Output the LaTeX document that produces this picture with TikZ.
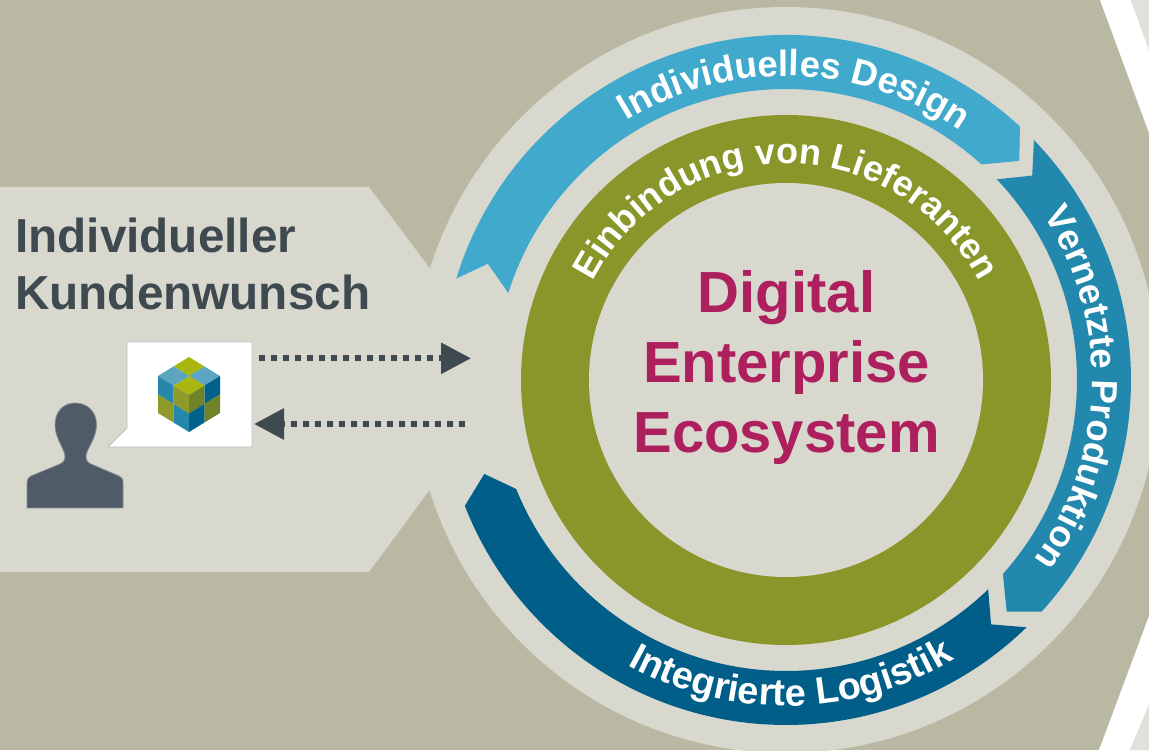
\documentclass[tikz,border=0pt]{standalone}
\usepackage{fontspec}
\setmainfont{Liberation Sans}
\usetikzlibrary{decorations.text,arrows.meta}
\definecolor{bgc}{HTML}{B9B8A3}
\definecolor{palec}{HTML}{D8D8CE}
\definecolor{palerc}{HTML}{E1E1D9}
\definecolor{blueA}{HTML}{41A9CB}
\definecolor{blueB}{HTML}{2388AD}
\definecolor{blueC}{HTML}{005E88}
\definecolor{greenc}{HTML}{88962A}
\definecolor{magc}{HTML}{AE1F5E}
\definecolor{inkc}{HTML}{3F4A50}
\definecolor{personc}{HTML}{4F5B66}
\definecolor{cyel}{HTML}{A9B60F}
\definecolor{clbl}{HTML}{5BA5C0}
\definecolor{cblu}{HTML}{2587AA}
\definecolor{coli}{HTML}{8F9A2A}
\definecolor{cdol}{HTML}{6E8426}
\definecolor{cdbl}{HTML}{00628C}
\newcommand{\ringfont}{\fontsize{36.5}{37}\selectfont\bfseries}
\newcommand{\lowfont}{\fontsize{38}{38}\selectfont\bfseries}
\newcommand{\innerfont}{\fontsize{36}{36}\selectfont\bfseries}
\tikzset{
  curvetext/.style={decorate,decoration={text along path,text align=center,text color=white,text={#1}}},
  flowline/.style={draw=inkc,line width=6pt,dash pattern=on 6pt off 6pt,
    -{Triangle[length=30pt,width=30pt,fill=inkc]}},
  kundentext/.style={text=inkc,font=\fontsize{47.7}{57}\selectfont\bfseries,align=left,inner sep=0pt},
  maintext/.style={text=magc,font=\fontsize{58}{70}\selectfont\bfseries,align=center,inner sep=0pt},
}
\begin{document}
\begin{tikzpicture}[x=1pt,y=1pt]
\useasboundingbox (0,0) rectangle (1149,750);
\clip (0,0) rectangle (1149,750);
\fill[bgc] (0,0) rectangle (1149,750);
% chevrons at the right edge
\fill[white] (1100,750) -- (1131,750) -- (1149,700) -- (1149,617) -- cycle;
\fill[palerc] (1131,750) -- (1149,750) -- (1149,700) -- cycle;
\fill[white] (1099,0) -- (1130,0) -- (1149,45) -- (1149,134) -- cycle;
\fill[palerc] (1130,0) -- (1149,0) -- (1149,45) -- cycle;
% customer panel
\fill[palec] (0,563) -- (369,563) -- (431,480) -- (431,262) -- (369,178) -- (0,178) -- cycle;
\begin{scope}[shift={(786,370)}]
\fill[palec] (0,0) circle[radius=373];
\fill[blueA] (162.9:345) arc[start angle=162.9,end angle=47.3,radius=345] -- (43.2:320) -- (47.8:291) arc[start angle=47.8,end angle=162.6,radius=291] -- (158.7:320) -- cycle;
\fill[blueB] (44.06:345) arc[start angle=44.06,end angle=-42.2,radius=345] -- (-46.4:320) -- (-41.8:291) arc[start angle=-41.8,end angle=43.6,radius=291] -- (39.7:320) -- cycle;
\fill[blueC] (-45.8:345) arc[start angle=-45.8,end angle=-158.6,radius=345] -- (-162.7:316) -- (-158:291) arc[start angle=-158,end angle=-46,radius=291] -- (-50:319) -- cycle;
\fill[greenc] (0,0) circle[radius=265];
\fill[palec] (0,0) circle[radius=197];
\path[curvetext={|\ringfont|Individuelles Design}] (133.3:304) arc[start angle=133.3,end angle=43.3,radius=304];
\path[curvetext={|\ringfont|Vernetzte Produktion}] (43.4:306) arc[start angle=43.4,end angle=-46.6,radius=306];
\path[curvetext={|\lowfont|Integrierte Logistik}] (-134:326) arc[start angle=-134,end angle=-44,radius=326];
\path[curvetext={|\innerfont|Einbindung von Lieferanten}] (170:216.5) arc[start angle=170,end angle=10,radius=216.5];
\end{scope}
\node[maintext] (main) at (786.5,382.7) {Digital\\Enterprise\\Ecosystem};
\node[kundentext,anchor=base west] (kunde) at (15,497) {Individueller};
\node[kundentext,anchor=base west] (wunsch) at (15,440) {Kundenwunsch};
% person
\fill[personc,draw=personc!70!white,line width=0.8pt] (27,242) -- (27,267) .. controls (27,271) and (29,273) .. (31,274) -- (60,286) .. controls (64,288) and (65,290) .. (65,294) .. controls (65,300) and (55,312) .. (55,325) .. controls (55,338) and (63,347) .. (75,347) .. controls (88,347) and (96.5,338) .. (96.5,325) .. controls (96.5,312) and (86,300) .. (86,294) .. controls (86,290) and (87,288) .. (91,286) -- (119,274) .. controls (122,273) and (123,271) .. (123,267) -- (123,242) -- cycle;
% speech bubble
\filldraw[fill=white,draw=black!25,line width=0.8pt,line join=round] (127,408) -- (252,408) -- (252,303) -- (108,303) -- (127,322) -- cycle;
% cube: top face
\fill[cyel] (189,393) -- (204.5,383.5) -- (189,374) -- (173.5,383.5) -- cycle;
\fill[clbl] (204.5,383.5) -- (220,374) -- (204.5,364.5) -- (189,374) -- cycle;
\fill[cyel] (189,374) -- (204.5,364.5) -- (189,355) -- (173.5,364.5) -- cycle;
\fill[clbl] (173.5,383.5) -- (189,374) -- (173.5,364.5) -- (158,374) -- cycle;
% cube: left face
\fill[cblu] (158,374) -- (173.5,364.5) -- (173.5,346) -- (158,355.5) -- cycle;
\fill[coli] (173.5,364.5) -- (189,355) -- (189,336.5) -- (173.5,346) -- cycle;
\fill[coli] (158,355.5) -- (173.5,346) -- (173.5,327.5) -- (158,337) -- cycle;
\fill[cblu] (173.5,346) -- (189,336.5) -- (189,318) -- (173.5,327.5) -- cycle;
% cube: right face
\fill[cdol] (189,355) -- (204.5,364.5) -- (204.5,346) -- (189,336.5) -- cycle;
\fill[cdbl] (204.5,364.5) -- (220,374) -- (220,355.5) -- (204.5,346) -- cycle;
\fill[cdbl] (189,336.5) -- (204.5,346) -- (204.5,327.5) -- (189,318) -- cycle;
\fill[cdol] (204.5,346) -- (220,355.5) -- (220,337) -- (204.5,327.5) -- cycle;
% flows
\coordinate (outA) at (259,391.7);
\coordinate (outB) at (471,391.7);
\coordinate (backA) at (465,326);
\coordinate (backB) at (254,326);
\draw[flowline] (outA) -- (outB);
\draw[flowline] (backA) -- (backB);
\end{tikzpicture}
\end{document}
